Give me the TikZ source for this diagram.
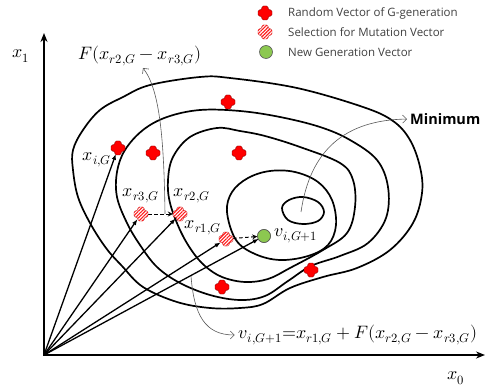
\documentclass[tikz,border=0pt]{standalone}
\usepackage{fontspec}
\usepackage{unicode-math}
\setmainfont{Open Sans}
\setmathfont{Latin Modern Math}
\usetikzlibrary{arrows.meta,patterns.meta}
\definecolor{leafgreen}{RGB}{140,200,80}
\newcommand\plusshape[2]{%
  \path[#2, shift={(#1.center)}, rounded corners=1.4pt]
    (-3.1,-7) -- (3.1,-7) -- (3.1,-3.1) -- (7,-3.1) -- (7,3.1) -- (3.1,3.1) --
    (3.1,7) -- (-3.1,7) -- (-3.1,3.1) -- (-7,3.1) -- (-7,-3.1) -- (-3.1,-3.1) -- cycle;}
\begin{document}
\begin{tikzpicture}[x=1pt,y=-1pt,
  contour/.style={line width=1.7pt, black, line join=round},
  axisline/.style={line width=2.4pt, {Stealth[length=9pt,width=7pt]}-{Stealth[length=9pt,width=7pt]}},
  vec/.style={line width=1.3pt, -{Latex[length=6pt,width=4.5pt]}, shorten >=-1pt},
  dvec/.style={line width=1pt, dash pattern=on 3.5pt off 2.5pt, -{Stealth[length=5pt,width=5pt,open]}},
  note/.style={line width=0.6pt, black!65, -{Straight Barb[length=4pt,width=8pt]}},
  anchorpt/.style={circle, minimum size=14pt, inner sep=0pt},
  greendot/.style={circle, minimum size=13pt, inner sep=0pt, fill=leafgreen, draw=black!65, line width=0.6pt},
  redfill/.style={fill=red, draw=red!55!black, line width=0.4pt},
  hatchfill/.style={fill=white, draw=red!75!black, line width=0.4pt,
     postaction={pattern={Lines[angle=45,distance=2.4pt,line width=1.1pt]}, pattern color=red!90!white}},
  lbl/.style={font=\fontsize{18}{20}\selectfont, inner sep=0pt},
  leg/.style={font=\fontsize{11.5}{13}\selectfont, text=black!75, anchor=west, inner sep=0pt}]
\useasboundingbox (0,0) rectangle (489,387);

% contours
\draw[contour] plot[smooth cycle, tension=0.6] coordinates {
  (282,208) (289,200) (303,197) (318,202) (324,212) (318,221) (303,224) (288,220)};
\draw[contour] plot[smooth cycle, tension=0.6] coordinates {
  (227,212) (232,192) (248,178) (270,171) (295,172) (318,182) (332,200) (336,225)
  (328,245) (308,256) (280,260) (255,254) (236,240)};
\draw[contour] plot[smooth cycle, tension=0.6] coordinates {
  (217,128) (190,137) (173,157) (168,180) (170,203) (180,230) (192,251) (205,266)
  (222,277) (245,282) (268,279) (290,268) (323,250) (347,233) (355,207) (353,180)
  (340,163) (300,147) (265,136) (240,131)};
\draw[contour] plot[smooth cycle, tension=0.6] coordinates {
  (200,110) (167,117) (143,130) (125,150) (117,172) (117,197) (127,223) (140,245)
  (157,267) (180,283) (210,295) (240,300) (265,296) (288,281) (311,266) (340,256)
  (368,243) (386,218) (388,187) (377,160) (350,140) (320,127) (280,117) (240,111)};
\draw[contour] plot[smooth cycle, tension=0.6] coordinates {
  (230,78) (297,88) (363,107) (393,121) (410,140) (420,167) (422,193) (413,223)
  (390,250) (357,268) (323,277) (290,288) (263,304) (240,308) (210,308) (177,302)
  (143,287) (122,266) (106,248) (90,223) (78,197) (73,170) (73,150) (83,130)
  (100,110) (123,97) (150,85) (200,77)};

% axes
\coordinate (O) at (44,355);
\coordinate (Ytop) at (44,33);
\coordinate (Xend) at (485,355);
\draw[axisline] (Ytop) -- (O) -- (Xend);

% points
\node[anchorpt] (r1) at (228,102) {};
\node[anchorpt] (r2) at (118,148) {};
\node[anchorpt] (r3) at (153,153) {};
\node[anchorpt] (r4) at (239,153) {};
\node[anchorpt] (r5) at (311,270) {};
\node[anchorpt] (r6) at (222,287) {};
\node[anchorpt] (h3) at (141,214) {};
\node[anchorpt] (h2) at (180,214) {};
\node[anchorpt] (h1) at (226,239) {};
\node[greendot] (v) at (264,236) {};

% vectors
\draw[vec] (O) -- (r2);
\draw[vec] (O) -- (h3);
\draw[vec] (O) -- (h2);
\draw[vec] (O) -- (h1);
\draw[vec] (O) -- (v);
\draw[dvec] (h3) -- (h2);
\draw[dvec] (h1) -- (v);

\foreach \n in {r1,r2,r3,r4,r5,r6} {\plusshape{\n}{redfill}}
\foreach \n in {h1,h2,h3} {\plusshape{\n}{hatchfill}}
\node[greendot] at (v) {};

% labels
\node[lbl] (lx1) at (21,56) {$x_1$};
\node[lbl] (lx0) at (456,378) {$x_0$};
\node[lbl] (lF) at (140,56) {$F(x_{r2,G}-x_{r3,G})$};
\node[lbl] (lxi) at (97,160) {$x_{i,G}$};
\node[lbl] (lxr3) at (141,196) {$x_{r3,G}$};
\node[lbl] (lxr2) at (192,196) {$x_{r2,G}$};
\node[lbl] (lxr1) at (203,228) {$x_{r1,G}$};
\node[lbl] (lv) at (296,236) {$v_{i,G+1}$};
\node[lbl] (lform) at (358,335) {$v_{i,G+1}{=}x_{r1,G}+F(x_{r2,G}-x_{r3,G})$};
\node[font=\bfseries\fontsize{14.5}{16}\selectfont, anchor=west, inner sep=0pt] (lmin) at (410,119) {Minimum};

% notes
\coordinate (n1s) at (165,214);
\coordinate (n1e) at (143,68);
\coordinate (n2s) at (301,212);
\coordinate (n3s) at (191,276);
\draw[note] (n1s) .. controls (164,140) and (160,90) .. (n1e);
\draw[note, shorten >=3pt] (n2s) .. controls (310,150) and (345,120) .. (lmin.west);
\draw[note, shorten >=4pt] (n3s) .. controls (194,315) and (205,335) .. (lform.west);

% legend
\node[anchorpt] (lg1) at (265,13) {};
\node[anchorpt] (lg2) at (265,32) {};
\plusshape{lg1}{redfill}
\plusshape{lg2}{hatchfill}
\node[greendot] (lg3) at (266,52) {};
\node[leg] (lt1) at (288,13) {Random Vector of G-generation};
\node[leg] (lt2) at (288,32) {Selection for Mutation Vector};
\node[leg] (lt3) at (288,52) {New Generation Vector};
\end{tikzpicture}
\end{document}
